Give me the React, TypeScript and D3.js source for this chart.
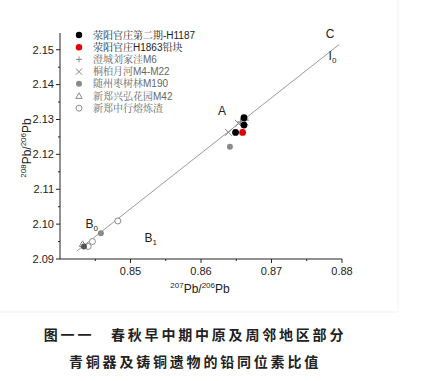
import React from "react";
import * as d3 from "d3";

const W = 426, H = 381;

const xTicks = [0.85, 0.86, 0.87, 0.88];
const yTicks = [2.09, 2.1, 2.11, 2.12, 2.13, 2.14, 2.15];

const seriesNames = [
  "荥阳官庄第二期-H1187",
  "荥阳官庄H1863铅块",
  "澄城刘家洼M6",
  "桐柏月河M4-M22",
  "随州枣树林M190",
  "新郑兴弘花园M42",
  "新郑中行熔炼渣",
];

const h1187: [number, number][] = [[0.8661, 2.1305], [0.8661, 2.1284], [0.8649, 2.1263]];
const h1863: [number, number][] = [[0.8659, 2.1263]];
const liujiawa: [number, number][] = [[0.8656, 2.1293], [0.8663, 2.1298]];
const yuehe: [number, number][] = [[0.8639, 2.1263], [0.8653, 2.1289], [0.8662, 2.1293]];
const zaoshulin: [number, number][] = [[0.8641, 2.1222], [0.8458, 2.0974], [0.8434, 2.0936]];
const xinghong: [number, number][] = [[0.8432, 2.0943]];
const zhonghang: [number, number][] = [[0.8482, 2.1009], [0.8446, 2.095], [0.8440, 2.0936]];

const refLine: [number, number][] = [[0.8424, 2.0923], [0.8796, 2.1515]];

const labels = [
  { t: "C", x: 0.8777, y: 2.1535, sub: "" },
  { t: "I", x: 0.8781, y: 2.1470, sub: "0" },
  { t: "A", x: 0.8624, y: 2.1314, sub: "" },
  { t: "B", x: 0.8436, y: 2.0990, sub: "0" },
  { t: "B", x: 0.8520, y: 2.0950, sub: "1" },
];

export default function App() {
  const m = { l: 60, r: 342, t: 33, b: 259 };
  const x = d3.scaleLinear().domain([0.84, 0.88]).range([m.l, m.r]);
  const y = d3.scaleLinear().domain([2.09, 2.1548]).range([m.b, m.t]);
  const line = d3.line<[number, number]>().x(d => x(d[0])).y(d => y(d[1]));
  const xMinor = d3.range(0.845, 0.88, 0.01);
  const yMinor = d3.range(2.095, 2.155, 0.01);
  const sans = "Liberation Sans, Arial, sans-serif";
  const serif = "'Noto Serif CJK SC', 'Noto Sans CJK SC', serif";
  const gray = "#8a8a8a";

  const dot = (d: [number, number], fill: string, r = 3.2, key: string) => (
    <circle key={key} cx={x(d[0])} cy={y(d[1])} r={r} fill={fill} />
  );
  const cross = (cx: number, cy: number, s: number, key: string) => (
    <path key={key} d={`M${cx - s},${cy - s}L${cx + s},${cy + s}M${cx - s},${cy + s}L${cx + s},${cy - s}`} stroke={gray} strokeWidth={1} fill="none" />
  );
  const plus = (cx: number, cy: number, s: number, key: string) => (
    <path key={key} d={`M${cx - s},${cy}L${cx + s},${cy}M${cx},${cy - s}L${cx},${cy + s}`} stroke={gray} strokeWidth={1} fill="none" />
  );
  const tri = (cx: number, cy: number, s: number, key: string, fill = "white") => (
    <path key={key} d={`M${cx},${cy - s}L${cx + s},${cy + s * 0.75}L${cx - s},${cy + s * 0.75}Z`} stroke={gray} strokeWidth={1} fill={fill} />
  );
  const ocirc = (cx: number, cy: number, r: number, key: string) => (
    <circle key={key} cx={cx} cy={cy} r={r} fill="white" stroke={gray} strokeWidth={1} />
  );

  const legendY = (i: number) => 35 + i * 12.2;
  const lx = 79;

  return (
    <svg width={W} height={H} style={{ position: "absolute", left: 0, top: 0, background: "white" }}>
      <line x1={0} y1={312} x2={398} y2={312} stroke="#f2f2f2" />
      <line x1={398} y1={0} x2={398} y2={312} stroke="#f2f2f2" />
      {/* axes */}
      <line x1={m.l} y1={m.t} x2={m.l} y2={m.b} stroke="#222" strokeWidth={1} />
      <line x1={m.l} y1={m.b} x2={m.r} y2={m.b} stroke="#222" strokeWidth={1} />
      {yTicks.map(t => (
        <g key={"yt" + t}>
          <line x1={m.l - 4} x2={m.l} y1={y(t)} y2={y(t)} stroke="#222" />
          <text x={m.l - 6} y={y(t) + 3.8} textAnchor="end" fontFamily={sans} fontSize={11} fill="#222">{t.toFixed(2)}</text>
        </g>
      ))}
      {yMinor.map(t => <line key={"ym" + t} x1={m.l - 2} x2={m.l} y1={y(t)} y2={y(t)} stroke="#222" />)}
      {xTicks.map(t => (
        <g key={"xt" + t}>
          <line x1={x(t)} x2={x(t)} y1={m.b} y2={m.b + 4} stroke="#222" />
          <text x={x(t)} y={m.b + 16} textAnchor="middle" fontFamily={sans} fontSize={11} fill="#222">{t.toFixed(2)}</text>
        </g>
      ))}
      {xMinor.map(t => <line key={"xm" + t} x1={x(t)} x2={x(t)} y1={m.b} y2={m.b + 2} stroke="#222" />)}
      {/* axis titles */}
      <text x={200} y={293} textAnchor="middle" fontFamily={sans} fontSize={12} fill="#222">
        <tspan fontSize={8} dy={-5}>207</tspan><tspan dy={5}>Pb/</tspan><tspan fontSize={8} dy={-5}>206</tspan><tspan dy={5}>Pb</tspan>
      </text>
      <text transform={`translate(31,148) rotate(-90)`} textAnchor="middle" fontFamily={sans} fontSize={12} fill="#222">
        <tspan fontSize={8} dy={-5}>208</tspan><tspan dy={5}>Pb/</tspan><tspan fontSize={8} dy={-5}>206</tspan><tspan dy={5}>Pb</tspan>
      </text>
      {/* reference line */}
      <path d={line(refLine) || ""} stroke="#9a9a9a" strokeWidth={1} fill="none" />
      {/* labels */}
      {labels.map((l, i) => (
        <text key={"lb" + i} x={x(l.x)} y={y(l.y)} fontFamily={sans} fontSize={12} fill="#222">
          {l.t}{l.sub && <tspan fontSize={8} dy={3}>{l.sub}</tspan>}
        </text>
      ))}
      {/* points */}
      {zhonghang.map((d, i) => ocirc(x(d[0]), y(d[1]), 3, "zh" + i))}
      {xinghong.map((d, i) => tri(x(d[0]), y(d[1]), 3.2, "xh" + i))}
      {zaoshulin.map((d, i) => dot(d, i === 2 ? "#555" : gray, 3, "zs" + i))}
      {yuehe.map((d, i) => cross(x(d[0]), y(d[1]), 3.5, "yh" + i))}
      {liujiawa.map((d, i) => plus(x(d[0]), y(d[1]), 3.5, "lj" + i))}
      {h1187.map((d, i) => dot(d, "#000", 3.4, "h1" + i))}
      {h1863.map((d, i) => dot(d, "#e00000", 3.4, "h2" + i))}
      {/* legend */}
      {seriesNames.map((n, i) => {
        const cy = legendY(i);
        let mk: React.ReactNode = null;
        if (i === 0) mk = <circle cx={lx} cy={cy} r={3.2} fill="#000" />;
        else if (i === 1) mk = <circle cx={lx} cy={cy} r={3.2} fill="#e00000" />;
        else if (i === 2) mk = plus(lx, cy, 3, "lgp");
        else if (i === 3) mk = cross(lx, cy, 3.2, "lgx");
        else if (i === 4) mk = <circle cx={lx} cy={cy} r={3} fill={gray} />;
        else if (i === 5) mk = tri(lx, cy, 3.2, "lgt");
        else mk = ocirc(lx, cy, 3, "lgo");
        const col = i < 2 ? "#222" : "#666";
        const parts = n.split(/([A-Za-z0-9\-]+)/).filter(s => s.length);
        return (
          <g key={"lg" + i}>
            {mk}
            <text x={93} y={cy + 3.6} fontSize={10} fill={col} fontFamily={serif}>
              {parts.map((p, j) => /[A-Za-z0-9\-]/.test(p)
                ? <tspan key={j} fontFamily={sans}>{p}</tspan>
                : <tspan key={j}>{p}</tspan>)}
            </text>
          </g>
        );
      })}
      {/* caption */}
      <text x={195} y={340} textAnchor="middle" fontFamily="'Noto Sans CJK SC', sans-serif" fontWeight="bold" fontSize={14} letterSpacing={2.8} fill="#222">
        图一一　春秋早中期中原及周邻地区部分
      </text>
      <text x={195} y={367} textAnchor="middle" fontFamily="'Noto Sans CJK SC', sans-serif" fontWeight="bold" fontSize={14} letterSpacing={2.8} fill="#222">
        青铜器及铸铜遗物的铅同位素比值
      </text>
    </svg>
  );
}
